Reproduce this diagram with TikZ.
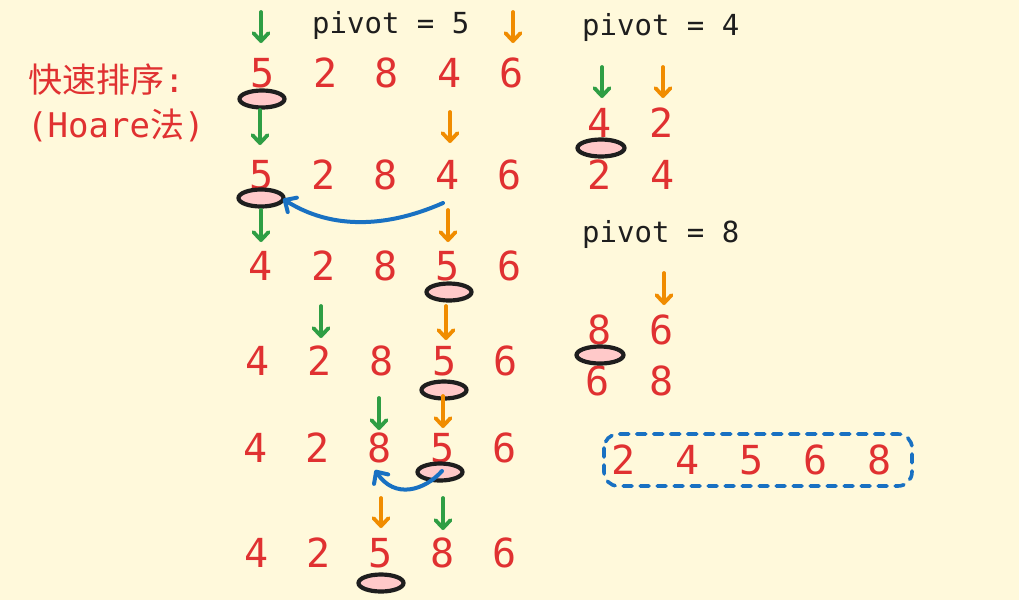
\documentclass[tikz,border=0pt]{standalone}
\usepackage{fontspec}
\setmonofont{DejaVu Sans Mono}
\newfontfamily\cjk{Noto Sans CJK SC}
\usetikzlibrary{arrows.meta,shapes.geometric}
\definecolor{bgc}{HTML}{FFF9DB}
\definecolor{numred}{HTML}{E03131}
\definecolor{grn}{HTML}{2F9E44}
\definecolor{org}{HTML}{F08C00}
\definecolor{blu}{HTML}{1971C2}
\definecolor{pnk}{HTML}{FFC9C9}
\definecolor{ink}{HTML}{1E1E1E}
\begin{document}
\begin{tikzpicture}[x=1pt,y=-1pt,
  num/.style={text=numred,font=\fontsize{40}{40}\selectfont\ttfamily,inner sep=0pt,anchor=center},
  piv/.style={text=ink,font=\fontsize{29}{29}\selectfont\ttfamily,inner sep=0pt,anchor=base west},
  ttl/.style={text=numred,font=\fontsize{34}{34}\selectfont\ttfamily,inner sep=0pt,anchor=west},
  ptr/.style={line width=3.8pt,line cap=round,-{Straight Barb[length=8pt,width=15pt,round]}},
  gptr/.style={ptr,draw=grn},
  optr/.style={ptr,draw=org},
  pmark/.style={draw=ink,fill=pnk,line width=4.2pt,ellipse,minimum width=45pt,minimum height=17pt,inner sep=0pt},
  swap/.style={draw=blu,line width=4pt,line cap=round,-{Straight Barb[length=9pt,width=17pt,round]}},
]
\fill[bgc] (0,0) rectangle (1019,600);
\useasboundingbox (0,0) rectangle (1019,600);

% title
\node[ttl] (t1) at (28,80) {{\cjk 快速排序}:};
\node[ttl] (t2) at (27,125) {(Hoare{\cjk 法})};

% pivot labels
\node[piv] (p5) at (312,33) {pivot = 5};
\node[piv] (p4) at (582,35) {pivot = 4};
\node[piv] (p8) at (582,242) {pivot = 8};

% row 1
\node[num] (a1) at (263,73) {5};
\node[num] (a2) at (326,73) {2};
\node[num] (a3) at (387,73) {8};
\node[num] (a4) at (450,73) {4};
\node[num] (a5) at (512,73) {6};
% row 2
\node[num] (b1) at (262,175) {5};
\node[num] (b2) at (324,175) {2};
\node[num] (b3) at (386,175) {8};
\node[num] (b4) at (448,175) {4};
\node[num] (b5) at (510,175) {6};
% row 3
\node[num] (c1) at (261,266) {4};
\node[num] (c2) at (324,266) {2};
\node[num] (c3) at (386,266) {8};
\node[num] (c4) at (448,266) {5};
\node[num] (c5) at (510,266) {6};
% row 4
\node[num] (d1) at (258,361) {4};
\node[num] (d2) at (320,361) {2};
\node[num] (d3) at (382,361) {8};
\node[num] (d4) at (445,361) {5};
\node[num] (d5) at (506,361) {6};
% row 5
\node[num] (e1) at (256,448) {4};
\node[num] (e2) at (318,448) {2};
\node[num] (e3) at (380,448) {8};
\node[num] (e4) at (443,448) {5};
\node[num] (e5) at (505,448) {6};
% row 6
\node[num] (f1) at (257,553) {4};
\node[num] (f2) at (319,553) {2};
\node[num] (f3) at (381,553) {5};
\node[num] (f4) at (443,553) {8};
\node[num] (f5) at (505,553) {6};

% right side
\node[num] (r1) at (600,123) {4};
\node[num] (r2) at (662,123) {2};
\node[num] (r3) at (600,175) {2};
\node[num] (r4) at (663,175) {4};
\node[num] (s1) at (600,330) {8};
\node[num] (s2) at (662,330) {6};
\node[num] (s3) at (598,381) {6};
\node[num] (s4) at (662,381) {8};

% final result
\node[num] (z1) at (624,460) {2};
\node[num] (z2) at (688,460) {4};
\node[num] (z3) at (752,460) {5};
\node[num] (z4) at (816,460) {6};
\node[num] (z5) at (880,460) {8};
\draw[blu,line width=3.6pt,line cap=round,dash pattern=on 9pt off 8pt,rounded corners=14pt] (604,434) rectangle (912,486);

% ellipses (pivot markers)
\node[pmark] (m1) at (262,99) {};
\node[pmark] (m2) at (261,198) {};
\node[pmark] (m3) at (449,292) {};
\node[pmark] (m4) at (444,390) {};
\node[pmark] (m5) at (440,472) {};
\node[pmark] (m6) at (381,583) {};
\node[pmark,minimum width=47pt] (m7) at (601,148) {};
\node[pmark,minimum width=47pt] (m8) at (600,355) {};

% pointer coordinates
\coordinate (g1s) at (261,12); \coordinate (g1e) at (261,43);
\coordinate (o1s) at (513,12); \coordinate (o1e) at (513,43);
\coordinate (g2s) at (260,110); \coordinate (g2e) at (260,145);
\coordinate (o2s) at (450,112); \coordinate (o2e) at (450,143);
\coordinate (g3s) at (261,210); \coordinate (g3e) at (261,242);
\coordinate (o3s) at (448,210); \coordinate (o3e) at (448,242);
\coordinate (g4s) at (321,306); \coordinate (g4e) at (321,338);
\coordinate (o4s) at (446,306); \coordinate (o4e) at (446,340);
\coordinate (g5s) at (379,398); \coordinate (g5e) at (379,430);
\coordinate (o5s) at (443,396); \coordinate (o5e) at (443,428);
\coordinate (o6s) at (381,498); \coordinate (o6e) at (381,528);
\coordinate (g6s) at (443,498); \coordinate (g6e) at (443,530);
\coordinate (g7s) at (602,67); \coordinate (g7e) at (602,98);
\coordinate (o7s) at (663,67); \coordinate (o7e) at (663,98);
\coordinate (o8s) at (664,273); \coordinate (o8e) at (664,305);

\draw[gptr] (g1s) -- (g1e);
\draw[optr] (o1s) -- (o1e);
\draw[gptr] (g2s) -- (g2e);
\draw[optr] (o2s) -- (o2e);
\draw[gptr] (g3s) -- (g3e);
\draw[optr] (o3s) -- (o3e);
\draw[gptr] (g4s) -- (g4e);
\draw[optr] (o4s) -- (o4e);
\draw[gptr] (g5s) -- (g5e);
\draw[optr] (o5s) -- (o5e);
\draw[optr] (o6s) -- (o6e);
\draw[gptr] (g6s) -- (g6e);
\draw[gptr] (g7s) -- (g7e);
\draw[optr] (o7s) -- (o7e);
\draw[optr] (o8s) -- (o8e);

% swap curves
\coordinate (w1s) at (443,203);
\coordinate (w1e) at (283,199);
\draw[swap] (w1s) .. controls (400,222) and (340,235) .. (w1e);
\coordinate (w2s) at (442,471);
\coordinate (w2e) at (375,470);
\draw[swap] (w2s) .. controls (425,490) and (395,500) .. (w2e);
\end{tikzpicture}
\end{document}
